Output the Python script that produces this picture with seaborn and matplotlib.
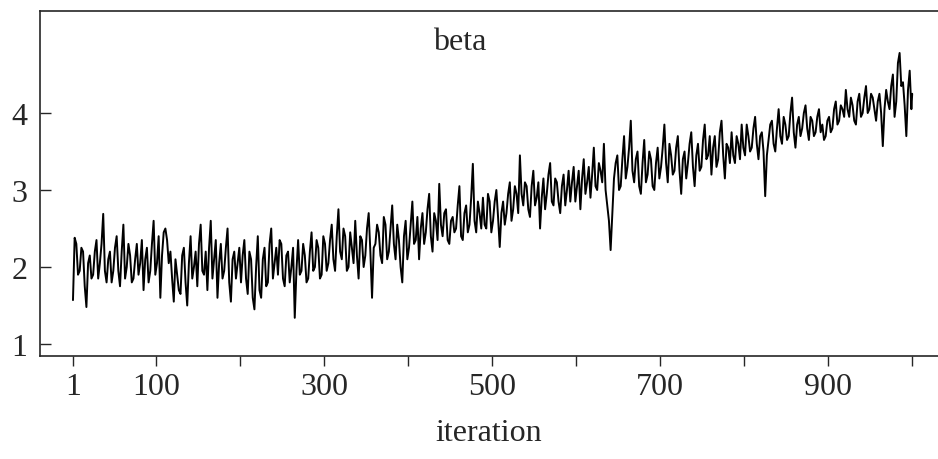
import numpy as np
import pandas as pd
import seaborn as sns
import matplotlib.pyplot as plt

# trace of beta, every 2nd iteration
# values at iterations 1, 5, 9, ... 997 and 1000
iter_a = list(range(1, 1000, 4)) + [1000]
beta_a = [
    1.57, 2.30, 1.95, 2.20, 1.48, 2.15, 1.90, 2.35, 2.05, 2.69, 1.80, 2.20, 1.95, 2.40, 1.75, 2.55, 2.00, 2.15, 1.85, 2.30, 2.05, 1.70, 2.25, 1.95, 2.60,
    2.05, 1.60, 2.45, 2.35, 2.20, 1.55, 1.90, 1.65, 2.25, 1.50, 2.40, 2.00, 1.75, 2.55, 1.90, 1.70, 2.60, 2.10, 1.60, 2.30, 1.95, 2.50, 1.55, 2.20, 2.05,
    1.80, 2.35, 1.65, 2.10, 1.45, 2.40, 1.60, 2.25, 1.80, 2.50, 2.05, 1.90, 2.30, 1.75, 2.20, 2.00, 1.34, 2.35, 1.95, 2.15, 1.85, 2.45, 2.00, 2.25, 1.90,
    2.30, 2.05, 2.55, 1.95, 2.75, 2.10, 2.40, 2.00, 2.25, 2.60, 1.85, 2.35, 2.15, 2.70, 1.60, 2.30, 2.45, 2.05, 2.55, 2.20, 2.80, 2.10, 2.35, 1.80, 2.60,
    2.25, 2.85, 2.35, 2.10, 2.70, 2.45, 2.95, 2.20, 2.60, 3.08, 2.40, 2.75, 2.30, 2.65, 2.50, 3.05, 2.35, 2.80, 2.55, 3.34, 2.45, 2.70, 2.90, 2.50, 2.85,
    2.60, 3.00, 2.26, 2.85, 2.70, 3.10, 2.75, 2.95, 3.45, 2.80, 3.05, 2.65, 3.25, 2.90, 2.50, 3.15, 2.95, 3.35, 2.80, 3.10, 2.70, 3.20, 3.00, 2.85, 3.30,
    3.05, 2.75, 3.40, 3.10, 2.90, 3.55, 3.00, 3.25, 3.60, 2.80, 2.22, 3.15, 3.45, 3.05, 3.70, 3.30, 3.90, 3.10, 3.50, 2.95, 3.65, 3.20, 3.40, 3.00, 3.55,
    3.30, 3.85, 3.10, 3.45, 3.25, 3.70, 2.95, 3.50, 3.35, 3.75, 3.05, 3.60, 3.30, 3.85, 3.45, 3.20, 3.70, 3.40, 3.90, 3.15, 3.55, 3.75, 3.35, 3.60, 3.85,
    3.45, 3.70, 3.55, 3.95, 3.40, 3.75, 2.92, 3.65, 3.90, 3.50, 4.05, 3.60, 3.85, 3.70, 4.20, 3.55, 3.95, 3.80, 4.10, 3.65, 3.90, 3.75, 4.05, 3.85, 3.70,
    3.95, 3.80, 4.15, 3.90, 4.05, 4.30, 3.95, 4.10, 3.85, 4.25, 4.00, 4.35, 4.05, 4.20, 3.90, 4.25, 3.57, 4.30, 4.05, 4.50, 4.15, 4.78, 4.40, 3.70, 4.55,
    4.25,
]
# values at iterations 3, 7, 11, ... 999
iter_b = list(range(3, 1000, 4))
beta_b = [
    2.38, 1.90, 2.25, 1.75, 2.05, 1.85, 2.20, 1.85, 2.30, 1.95, 2.10, 1.80, 2.25, 1.95, 2.20, 1.85, 2.30, 1.80, 2.10, 1.90, 2.35, 2.10, 1.80, 2.30, 1.90,
    2.40, 2.15, 2.50, 2.05, 1.85, 2.10, 1.70, 2.15, 1.80, 2.05, 1.85, 2.20, 2.30, 1.95, 2.20, 2.25, 1.85, 2.35, 2.05, 1.85, 2.25, 1.80, 2.10, 1.85, 2.25,
    2.15, 1.85, 2.20, 1.60, 2.00, 1.70, 2.10, 1.75, 2.30, 1.85, 2.25, 2.35, 1.85, 2.15, 1.80, 2.25, 1.95, 1.90, 2.30, 1.80, 2.20, 1.95, 2.35, 1.85, 2.40,
    1.95, 2.35, 2.10, 2.40, 2.20, 2.50, 1.95, 2.45, 2.05, 2.15, 2.40, 2.00, 2.50, 2.20, 2.25, 2.55, 2.15, 2.65, 2.10, 2.50, 2.30, 2.55, 2.00, 2.40, 2.10,
    2.55, 2.30, 2.65, 2.50, 2.30, 2.75, 2.40, 2.70, 2.35, 2.55, 2.70, 2.35, 2.60, 2.45, 2.80, 2.40, 2.70, 2.45, 2.90, 2.60, 2.85, 2.50, 2.55, 2.95, 2.45,
    2.85, 2.65, 2.70, 2.55, 2.95, 2.60, 3.05, 2.70, 2.95, 3.10, 2.75, 3.05, 2.80, 3.10, 2.90, 2.75, 3.20, 2.85, 3.15, 2.85, 3.05, 2.80, 3.25, 3.10, 2.85,
    3.25, 3.15, 2.95, 3.30, 3.20, 3.05, 3.35, 3.10, 3.00, 2.60, 2.70, 3.35, 3.00, 3.40, 3.15, 3.55, 3.25, 3.40, 3.05, 3.35, 3.10, 3.50, 3.05, 3.35, 3.15,
    3.55, 3.35, 3.60, 3.20, 3.55, 3.25, 3.40, 3.15, 3.60, 3.30, 3.45, 3.25, 3.65, 3.40, 3.70, 3.55, 3.30, 3.75, 3.45, 3.60, 3.35, 3.45, 3.70, 3.40, 3.55,
    3.85, 3.50, 3.80, 3.60, 3.70, 3.50, 3.45, 3.85, 3.60, 3.80, 3.70, 3.95, 3.65, 4.00, 3.75, 3.85, 3.70, 4.00, 3.80, 3.95, 3.70, 3.95, 3.75, 3.65, 3.90,
    3.75, 4.05, 3.85, 4.10, 3.95, 4.05, 4.20, 3.90, 4.15, 3.95, 4.20, 4.00, 4.25, 4.05, 4.15, 4.00, 4.05, 4.15, 4.35, 3.95, 4.65, 4.35, 4.10, 4.30, 4.05,
]
x_ticks = [1, 100, 200, 300, 400, 500, 600, 700, 800, 900, 1000]
x_labels = ['1', '100', '', '300', '', '500', '', '700', '', '900', '']
y_ticks = [1, 2, 3, 4]

df = pd.concat([
    pd.DataFrame({'iteration': iter_a, 'beta': beta_a}),
    pd.DataFrame({'iteration': iter_b, 'beta': beta_b}),
]).sort_values('iteration')

sns.set_style("ticks")
plt.rcParams['font.family'] = ['Liberation Serif', 'DejaVu Serif']

fig = plt.figure(figsize=(9.38, 4.6), dpi=100)
ax = fig.add_axes([0.0426, 0.2239, 0.9574, 0.75])
sns.lineplot(data=df, x='iteration', y='beta', color='black', linewidth=1.4,
             sort=False, ax=ax)

ax.set_xlim(-38.3, 1030.7)
ax.set_ylim(0.844, 5.325)
ax.set_xticks(x_ticks)
ax.set_xticklabels(x_labels)
ax.set_yticks(y_ticks)
ax.tick_params(axis='x', direction='out', length=7.5, width=1, labelsize=23, pad=4)
ax.tick_params(axis='y', direction='in', length=8, width=1, labelsize=23, pad=9)
for s in ['left', 'top', 'bottom']:
    ax.spines[s].set_linewidth(1.2)
ax.spines['right'].set_visible(False)

ax.set_xlabel('iteration', fontsize=23, labelpad=12)
ax.set_ylabel('')
fig.text(460 / 938, 1 - 42 / 460, 'beta', fontsize=23, ha='center', va='center')

fig.savefig('out.png', dpi=100)
